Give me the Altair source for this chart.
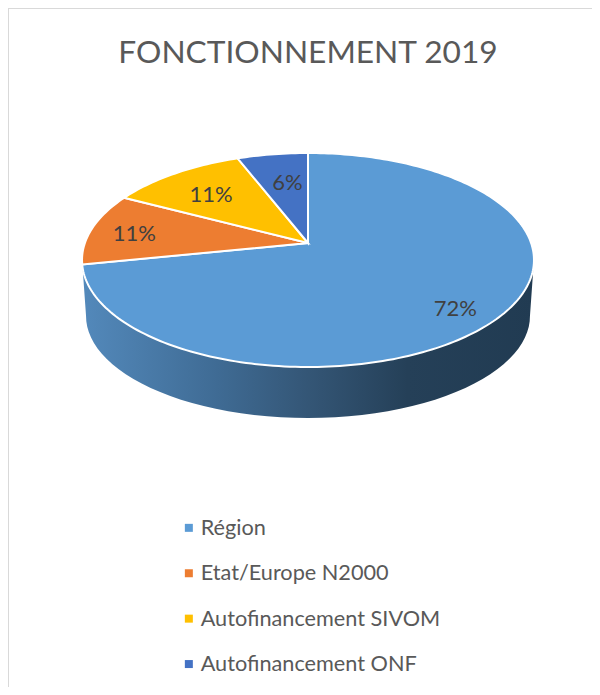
import math
import altair as alt

categories = ["Région", "Etat/Europe N2000", "Autofinancement SIVOM", "Autofinancement ONF"]
shares = [71.8, 10.9, 11.4, 5.9]
colors = ["#5b9bd5", "#ed7d31", "#ffc000", "#4472c4"]
labels = ["72%", "11%", "11%", "6%"]
label_radius = [0.8, 0.8, 0.7, 0.63]
label_nudge = [(-3, 9), (0, 3), (-1, 2), (3, -1)]
title = "FONCTIONNEMENT 2019"

FONT = "Lato"
OX, OY = 300, 235   # apex, in chart pixels
C, B, P = 223.1, 104.3, 0.159   # perspective of the tilted disc


def disc(r, theta):
    u, v = r * math.sin(theta), r * math.cos(theta)
    w = 1 + P * v
    return OX + C * u / w, OY - B * v / w


def lower(pt):
    x, y = pt
    return OX + (x - OX) * 222 / 226, 308 + (y - 252) * 102 / 107


def feature(name, ring):
    return {"type": "Feature", "properties": {"name": name},
            "geometry": {"type": "Polygon", "coordinates": [[list(p) for p in ring]]}}


total = sum(shares)
wedges, text_rows = [], []
start = 0.0
for name, s, lab, rr, nudge in zip(categories, shares, labels, label_radius, label_nudge):
    a0, a1 = start / total * 2 * math.pi, (start + s) / total * 2 * math.pi
    n = max(4, int(s * 3))
    arc = [disc(1, a0 + (a1 - a0) * i / n) for i in range(n + 1)]
    wedges.append(feature(name, [(OX, OY)] + arc + [(OX, OY)]))
    px, py = disc(rr, (a0 + a1) / 2)
    text_rows.append({"label": lab, "px": px + nudge[0], "py": py + nudge[1]})
    start += s

# side wall: front half of the top rim, back along the bottom rim
angles = [math.radians(a) for a in range(99, 262, 3)]
top_rim = [disc(1, a) for a in angles]
bottom_rim = [lower(p) for p in top_rim]
wall_feature = feature("wall", top_rim + bottom_rim[::-1] + [top_rim[0]])

proj = dict(type="identity", scale=1, translate=[0, 0])

wall = alt.Chart(alt.InlineData(values=[wall_feature])).mark_geoshape(
    fill=alt.Gradient(
        gradient="linear", x1=0, x2=1, y1=0, y2=0,
        stops=[
            alt.GradientStop(color="#5389bb", offset=0),
            alt.GradientStop(color="#3f6b94", offset=0.3),
            alt.GradientStop(color="#345676", offset=0.5),
            alt.GradientStop(color="#254058", offset=0.72),
            alt.GradientStop(color="#213b52", offset=1),
        ],
    ),
    strokeWidth=0,
).project(**proj)

top = alt.Chart(alt.InlineData(values=wedges)).mark_geoshape(
    stroke="white", strokeWidth=2
).encode(
    color=alt.Color(
        "properties.name:N",
        scale=alt.Scale(domain=categories, range=colors),
        sort=categories,
        legend=alt.Legend(
            title=None, orient="none", legendX=170, legendY=509,
            symbolType="square", symbolSize=64, symbolStrokeWidth=0,
            labelFont=FONT, labelFontSize=21.7, labelColor="#595959",
            rowPadding=22.4, labelOffset=1, padding=0, labelLimit=400,
        ),
    )
).project(**proj)

text = alt.Chart(alt.InlineData(values=text_rows)).mark_text(
    font=FONT, fontSize=22, color="#404040", align="center", baseline="middle"
).encode(
    longitude="px:Q", latitude="py:Q", text="label:N"
).project(**proj)

title_mark = alt.Chart(alt.InlineData(values=[{"t": title, "px": 300, "py": 55}])).mark_text(
    font=FONT, fontSize=31.7, color="#595959", align="center", baseline="alphabetic"
).encode(longitude="px:Q", latitude="py:Q", text="t:N").project(**proj)

left_border = alt.Chart(alt.InlineData(values=[{"a": 1}])).mark_rule(
    color="#d9d9d9", strokeWidth=2
).encode(x=alt.value(0), y=alt.value(0), y2=alt.value(679))
top_border = alt.Chart(alt.InlineData(values=[{"a": 1}])).mark_rule(
    color="#d9d9d9", strokeWidth=2
).encode(x=alt.value(0), x2=alt.value(584), y=alt.value(0))

chart = alt.layer(left_border, top_border, wall, top, text, title_mark).properties(
    width=584, height=679, padding=0, autosize=alt.AutoSizeParams(type="none"),
).configure_view(stroke=None)

chart.save("out.html", embed_options={"renderer": "svg", "actions": False})
